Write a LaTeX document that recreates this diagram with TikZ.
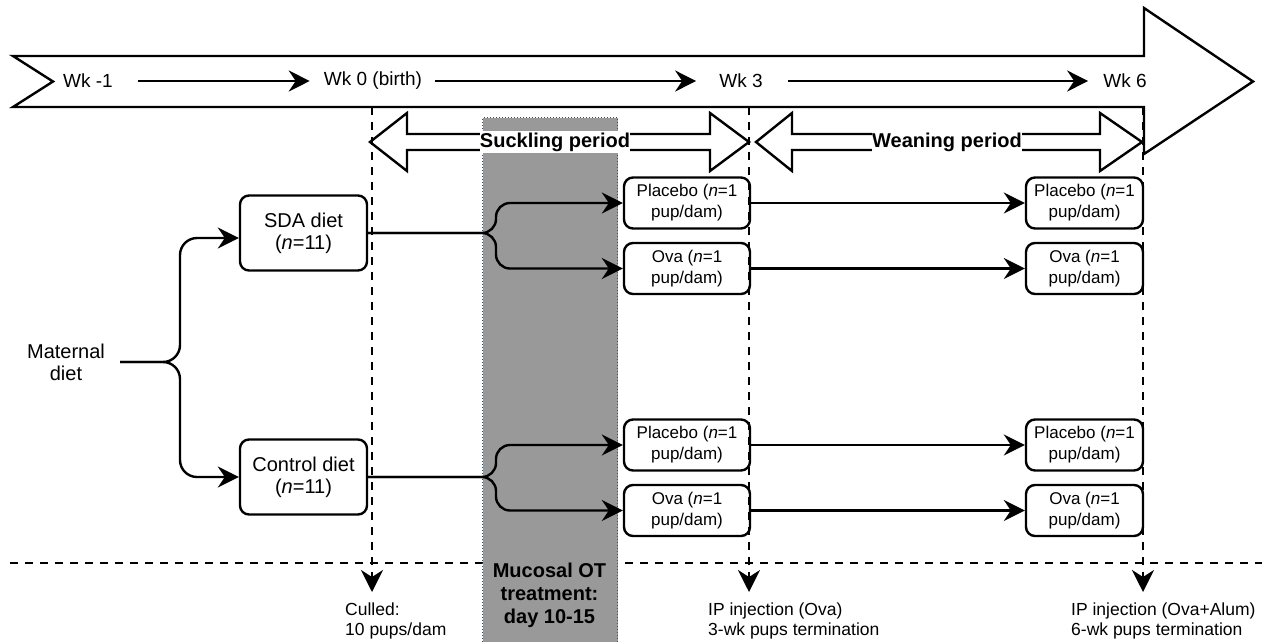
\documentclass[tikz,border=0pt]{standalone}
\usepackage{fontspec}
\setmainfont{Liberation Sans}
\usetikzlibrary{arrows.meta,calc}
\definecolor{graybar}{RGB}{153,153,153}
\definecolor{grayedge}{RGB}{54,82,107}
\newcommand\mytlfont{\fontsize{19}{22}\selectfont}
\newcommand\mydietfont{\fontsize{20}{22}\selectfont}
\newcommand\mybxfont{\fontsize{17}{21}\selectfont}
\newcommand\mynotefont{\fontsize{17.5}{20}\selectfont}
\newcommand\myboldfont{\fontsize{20}{23}\selectfont\bfseries}
\begin{document}
\begin{tikzpicture}[x=1pt,y=-1pt,
  conn/.style={line width=2.4pt,-{Stealth[length=21pt,width=21pt,inset=7pt]}},
  dline/.style={line width=2.4pt,dash pattern=on 8pt off 7pt},
  darrow/.style={dline,-{Stealth[length=22pt,width=22pt,inset=7pt]}},
  shape2/.style={draw,line width=2.4pt,fill=white,line join=miter},
  rbox/.style={draw,line width=2.4pt,rounded corners=9pt,align=center,inner sep=0pt,fill=white},
  smallbox/.style={rbox,minimum width=126pt,minimum height=51pt,font=\mybxfont},
  dietbox/.style={rbox,minimum width=127pt,minimum height=75pt,font=\mydietfont},
  lbl/.style={font=\myboldfont,fill=white,inner xsep=0pt,inner ysep=1.5pt},
  tl/.style={font=\mytlfont,inner sep=0pt},
  note/.style={font=\mynotefont,align=left,anchor=west,inner sep=0pt}]

\useasboundingbox (0,0) rectangle (1265,641);

% horizontal dashed line
\coordinate (hl) at (10,563);
\coordinate (hr) at (1262,563);
\draw[dline] (hl) -- (hr);

% grey treatment band
\node[draw=grayedge, dotted, line width=1pt, fill=graybar, minimum width=135pt,
      minimum height=530pt, inner sep=0pt, anchor=north west] (gray) at (482,117) {};
\node[font=\myboldfont, align=center, inner sep=0pt] (ot) at (549.5,595)
  {Mucosal OT\\treatment:\\day 10-15};

% big timeline arrow
\draw[shape2] (13,56) -- (1144,56) -- (1144,8) -- (1253,81.5) -- (1144,154)
  -- (1144,107) -- (13,107) -- (53,81.5) -- cycle;

\node[tl] (wkm1) at (88,81) {Wk -1};
\node[tl] (wk0) at (373,81) {Wk 0 (birth)};
\node[tl] (wk3) at (741,81) {Wk 3};
\node[tl] (wk6) at (1125,81) {Wk 6};
\draw[conn] ([xshift=25pt]wkm1.east) -- ([xshift=-14pt]wk0.west);
\draw[conn] ([xshift=13pt]wk0.east) -- ([xshift=-23pt]wk3.west);
\draw[conn] ([xshift=25pt]wk3.east) -- ([xshift=-15pt]wk6.west);

% period double arrows
\draw[shape2] (370,142) -- (407,113) -- (407,134) -- (710,134) -- (710,113)
  -- (749,142) -- (710,171) -- (710,150) -- (407,150) -- (407,171) -- cycle;
\draw[shape2] (756,142) -- (792,113) -- (792,134) -- (1100,134) -- (1100,113)
  -- (1142,142) -- (1100,171) -- (1100,150) -- (792,150) -- (792,171) -- cycle;
\node[lbl] (suck) at (555,142) {Suckling period};
\node[lbl] (wean) at (947,142) {Weaning period};

% maternal diet and groups
\node[font=\mydietfont, align=center, inner sep=0pt] (mat) at (66,362) {Maternal\\diet};
\node[dietbox] (sda) at (303.5,233) {SDA diet\\(\textit{n}=11)};
\node[dietbox] (ctrl) at (303.5,477) {Control diet\\(\textit{n}=11)};

\coordinate (bx) at (180,0);
\draw[conn, rounded corners=17pt] ([xshift=15pt]mat.east) -- (mat.east -| bx) |- ([yshift=-5pt]sda.west);
\draw[conn, rounded corners=17pt] ([xshift=15pt]mat.east) -- (mat.east -| bx) |- (ctrl.west);

% pup boxes
\node[smallbox] (p1) at (687,203) {Placebo (\textit{n}=1\\pup/dam)};
\node[smallbox] (o1) at (687,268.5) {Ova (\textit{n}=1\\pup/dam)};
\node[smallbox] (p2) at (687,445) {Placebo (\textit{n}=1\\pup/dam)};
\node[smallbox] (o2) at (687,510.5) {Ova (\textit{n}=1\\pup/dam)};
\node[smallbox, minimum width=117pt] (p1r) at (1084.5,203) {Placebo (\textit{n}=1\\pup/dam)};
\node[smallbox, minimum width=117pt] (o1r) at (1084.5,268.5) {Ova (\textit{n}=1\\pup/dam)};
\node[smallbox, minimum width=117pt] (p2r) at (1084.5,445) {Placebo (\textit{n}=1\\pup/dam)};
\node[smallbox, minimum width=117pt] (o2r) at (1084.5,510.5) {Ova (\textit{n}=1\\pup/dam)};

\coordinate (fx) at (496,0);
\draw[conn, rounded corners=14pt] (sda.east) -- (sda.east -| fx) |- (p1.west);
\draw[conn, rounded corners=14pt] (sda.east) -- (sda.east -| fx) |- (o1.west);
\draw[conn, rounded corners=14pt] (ctrl.east) -- (ctrl.east -| fx) |- (p2.west);
\draw[conn, rounded corners=14pt] (ctrl.east) -- (ctrl.east -| fx) |- (o2.west);

\draw[conn] (p1.east) -- (p1r.west);
\draw[conn] (o1.east) -- (o1r.west);
\draw[conn] (p2.east) -- (p2r.west);
\draw[conn] (o2.east) -- (o2r.west);

% vertical dashed time markers
\coordinate (v0t) at (372,107);  \coordinate (v0b) at (372,592);
\coordinate (v3t) at (749,107);  \coordinate (v3b) at (749,592);
\coordinate (v6t) at (1143,107); \coordinate (v6b) at (1143,592);
\draw[darrow] (v0t) -- (v0b);
\draw[darrow] (v3t) -- (v3b);
\draw[darrow] (v6t) -- (v6b);

% notes
\node[note] (culled) at (345,620.5) {Culled:\\10 pups/dam};
\node[note] (ip3) at (708,620.5) {IP injection (Ova)\\3-wk pups termination};
\node[note] (ip6) at (1071,620.5) {IP injection (Ova+Alum)\\6-wk pups termination};
\end{tikzpicture}
\end{document}
